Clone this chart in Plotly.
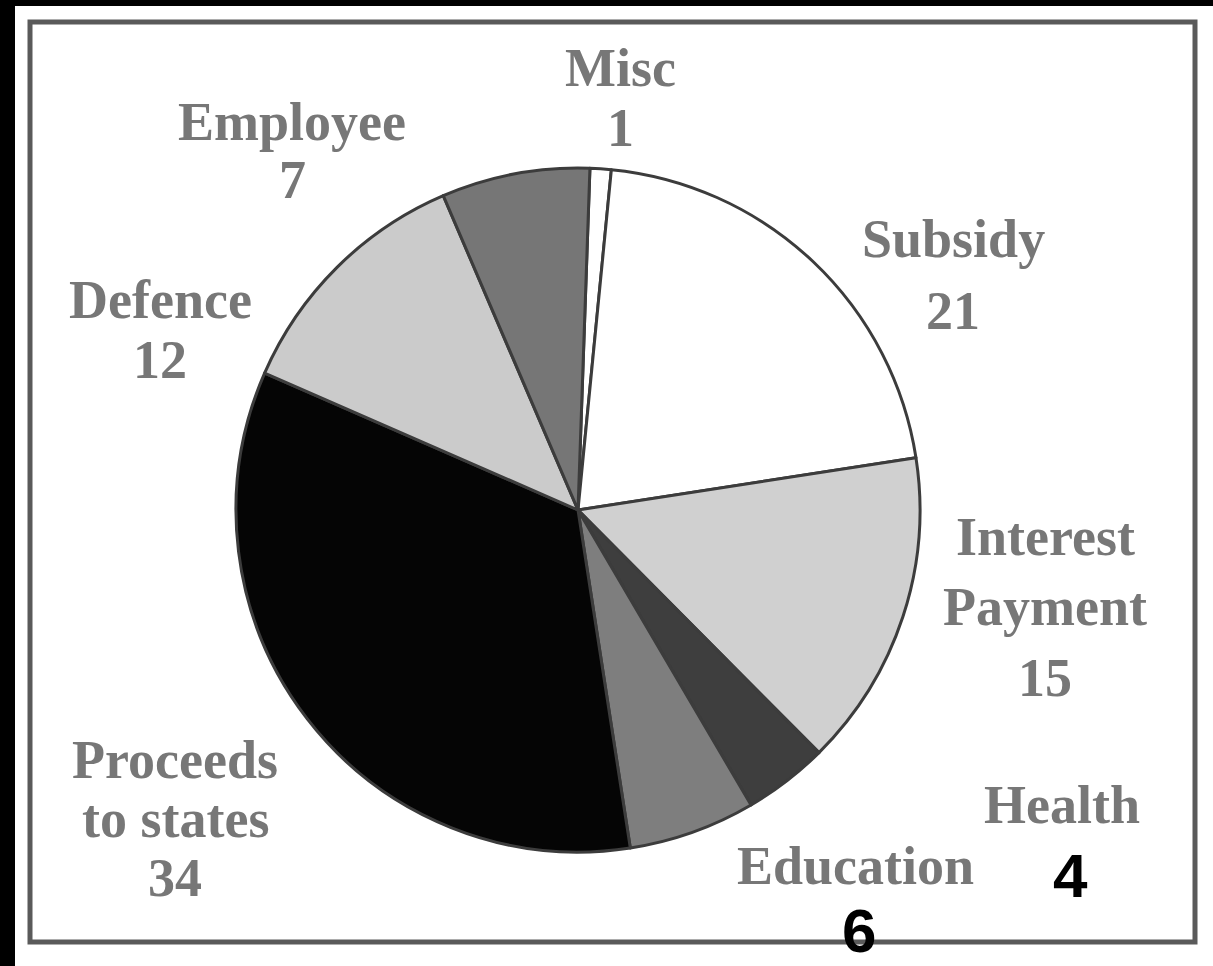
import plotly.graph_objects as go

categories = ["Misc", "Subsidy", "Interest Payment", "Health", "Education",
              "Proceeds to states", "Defence", "Employee"]
values = [1, 21, 15, 4, 6, 34, 12, 7]
label_lines = [["Misc"], ["Subsidy"], ["Interest", "Payment"], ["Health"], ["Education"],
               ["Proceeds", "to states"], ["Defence"], ["Employee"]]
colors = ["#ffffff", "#ffffff", "#d0d0d0", "#3e3e3e", "#7e7e7e",
          "#050505", "#cbcbcb", "#767676"]

W, H = 1213, 966
def px(x):
    return x / W
def py(y):
    return 1 - y / H

# label layout: x centre and y centre of each text line (pixels), last line is the value
label_x = {"Misc": 620, "Subsidy": 953, "Interest Payment": 1045, "Health": 1062,
           "Education": 855, "Proceeds to states": 175, "Defence": 160, "Employee": 292}
label_y = {"Misc": [68, 128], "Subsidy": [239, 311], "Interest Payment": [537, 607, 678],
           "Health": [805, 875], "Education": [866, 930],
           "Proceeds to states": [760, 819, 878], "Defence": [300, 360],
           "Employee": [122, 180]}
handwritten_values = {"Health", "Education"}

fig = go.Figure(go.Pie(
    labels=categories,
    values=values,
    sort=False,
    direction="clockwise",
    rotation=2,
    textinfo="none",
    hoverinfo="label+value",
    marker=dict(colors=colors, line=dict(color="#3c3c3c", width=3)),
    domain=dict(x=[px(236), px(920)], y=[py(852), py(168)]),
    showlegend=False,
))

annotations = []
for cat, lines, val in zip(categories, label_lines, values):
    x = label_x[cat]
    ys = label_y[cat]
    texts = lines + [str(val)]
    for i, (t, y) in enumerate(zip(texts, ys)):
        if cat in handwritten_values and i == len(texts) - 1:
            font = dict(family="Liberation Sans", size=62, color="#000000")
            xx = x + (8 if cat == "Health" else 4)
        else:
            font = dict(family="Liberation Serif", size=54, color="#777777")
            xx = x
        annotations.append(dict(
            x=px(xx), y=py(y), xref="paper", yref="paper",
            text=f"<b>{t}</b>", showarrow=False,
            xanchor="center", yanchor="middle", font=font,
        ))

shapes = [
    dict(type="rect", xref="paper", yref="paper",
         x0=px(15), x1=px(1213), y0=py(966), y1=py(6),
         fillcolor="white", line=dict(width=0), layer="below"),
    dict(type="rect", xref="paper", yref="paper",
         x0=px(30), x1=px(1195), y0=py(942), y1=py(22),
         fillcolor="rgba(0,0,0,0)", line=dict(color="#5a5a5a", width=5), layer="below"),
]

fig.update_layout(
    width=W, height=H,
    margin=dict(l=0, r=0, t=0, b=0),
    paper_bgcolor="#000000",
    plot_bgcolor="#ffffff",
    annotations=annotations,
    shapes=shapes,
)

fig.write_html("out.html", config={"displayModeBar": False},
               post_script="document.body.style.margin='0';document.body.style.overflow='hidden';")
